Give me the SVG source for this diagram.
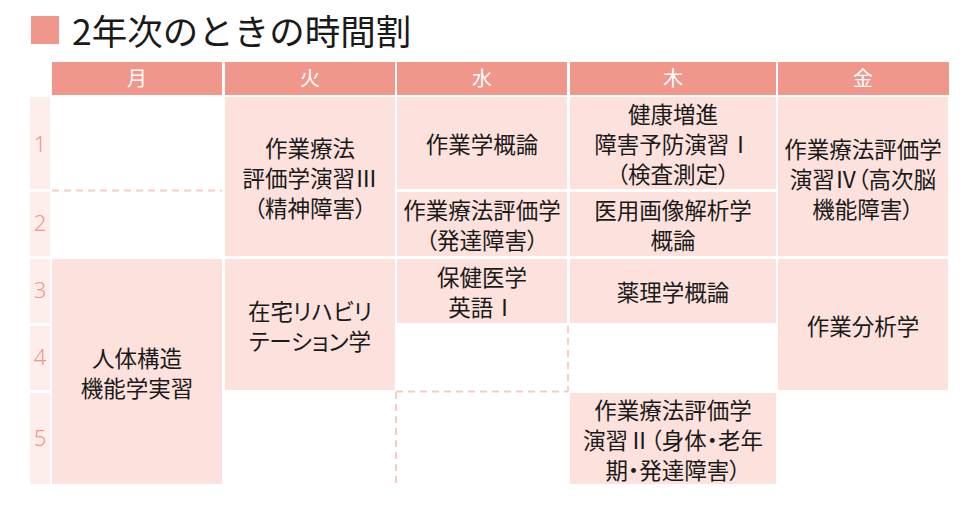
<svg xmlns="http://www.w3.org/2000/svg" width="976" height="521" viewBox="0 0 976 521">
<style>
.hd{fill:#F1968A}
.cell{fill:#FCE1DC}
.rl{fill:#FDEEEB}
.ht{fill:#ffffff;font-family:"Noto Sans CJK JP","Noto Sans",sans-serif;font-size:20px;text-anchor:middle}
.num{fill:#F1968A;font-family:"Noto Sans","Noto Sans CJK JP",sans-serif;font-size:22px;font-weight:300;text-anchor:middle}
.t{fill:#1a1a1a;font-family:"Noto Sans CJK JP",sans-serif;font-size:22.5px;text-anchor:middle;dominant-baseline:central;font-feature-settings:"palt"}
.dash{stroke:#F8CCC2;stroke-width:2;stroke-dasharray:7 5;fill:none}
</style>
<rect width="976" height="521" fill="#ffffff"/>
<g id="title">
<rect x="31" y="16" width="28" height="28" fill="#F1968A"/>
<text x="72" y="45" font-family="'Noto Sans CJK JP',sans-serif" font-size="35.5" fill="#1a1a1a">2年次のときの時間割</text>
</g>
<g id="headers">
<rect class="hd" x="52" y="62" width="170" height="33"/><text class="ht" x="137" y="86">月</text>
<rect class="hd" x="225" y="62" width="170" height="33"/><text class="ht" x="310" y="86">火</text>
<rect class="hd" x="397" y="62" width="170" height="33"/><text class="ht" x="482" y="86">水</text>
<rect class="hd" x="570" y="62" width="206" height="33"/><text class="ht" x="673" y="86">木</text>
<rect class="hd" x="778" y="62" width="171" height="33"/><text class="ht" x="863" y="86">金</text>
</g>
<g id="rowlabels">
<rect class="rl" x="30" y="97" width="20" height="92"/><text class="num" x="40" y="152">1</text>
<rect class="rl" x="30" y="192" width="20" height="64"/><text class="num" x="40" y="231">2</text>
<rect class="rl" x="30" y="259" width="20" height="64"/><text class="num" x="40" y="298">3</text>
<rect class="rl" x="30" y="326" width="20" height="64"/><text class="num" x="40" y="365">4</text>
<rect class="rl" x="30" y="393" width="20" height="91"/><text class="num" x="40" y="446">5</text>
</g>
<g id="tue12">
<rect class="cell" x="225" y="97" width="170" height="159"/>
<text class="t" x="310" y="146.5">作業療法</text>
<text class="t" x="310" y="176.5">評価学演習Ⅲ</text>
<text class="t" x="310" y="206.5">（精神障害）</text>
</g>
<g id="wed1">
<rect class="cell" x="397" y="97" width="170" height="92"/>
<text class="t" x="482" y="143">作業学概論</text>
</g>
<g id="wed2">
<rect class="cell" x="397" y="192" width="170" height="64"/>
<text class="t" x="482" y="209">作業療法評価学</text>
<text class="t" x="482" y="239">（発達障害）</text>
</g>
<g id="thu1">
<rect class="cell" x="570" y="97" width="206" height="92"/>
<text class="t" x="673" y="113">健康増進</text>
<text class="t" x="673" y="143">障害予防演習Ⅰ</text>
<text class="t" x="673" y="173">（検査測定）</text>
</g>
<g id="thu2">
<rect class="cell" x="570" y="192" width="206" height="64"/>
<text class="t" x="673" y="209">医用画像解析学</text>
<text class="t" x="673" y="239">概論</text>
</g>
<g id="fri12">
<rect class="cell" x="778" y="97" width="170" height="159"/>
<text class="t" x="863" y="147.5">作業療法評価学</text>
<text class="t" x="863" y="177.5">演習Ⅳ（高次脳</text>
<text class="t" x="863" y="207.5">機能障害）</text>
</g>
<g id="mon345">
<rect class="cell" x="52" y="259" width="170" height="225"/>
<text class="t" x="137" y="356.5">人体構造</text>
<text class="t" x="137" y="386.5">機能学実習</text>
</g>
<g id="tue34">
<rect class="cell" x="225" y="259" width="170" height="131"/>
<text class="t" x="310" y="309.5">在宅リハビリ</text>
<text class="t" x="310" y="339.5">テーション学</text>
</g>
<g id="wed3">
<rect class="cell" x="397" y="259" width="170" height="64"/>
<text class="t" x="482" y="276">保健医学</text>
<text class="t" x="482" y="306">英語Ⅰ</text>
</g>
<g id="thu3">
<rect class="cell" x="570" y="259" width="206" height="64"/>
<text class="t" x="673" y="291">薬理学概論</text>
</g>
<g id="fri34">
<rect class="cell" x="778" y="259" width="170" height="131"/>
<text class="t" x="863" y="324.5">作業分析学</text>
</g>
<g id="thu5">
<rect class="cell" x="570" y="393" width="206" height="91"/>
<text class="t" x="673" y="409">作業療法評価学</text>
<text class="t" x="673" y="439">演習Ⅱ（身体・老年</text>
<text class="t" x="673" y="469">期・発達障害）</text>
</g>
<g id="dividers">
<line class="dash" x1="52" y1="190.5" x2="222" y2="190.5"/>
<line class="dash" x1="568" y1="326" x2="568" y2="391.5"/>
<line class="dash" x1="396" y1="391.5" x2="568" y2="391.5"/>
<line class="dash" x1="396" y1="392" x2="396" y2="485"/>
</g>
</svg>
